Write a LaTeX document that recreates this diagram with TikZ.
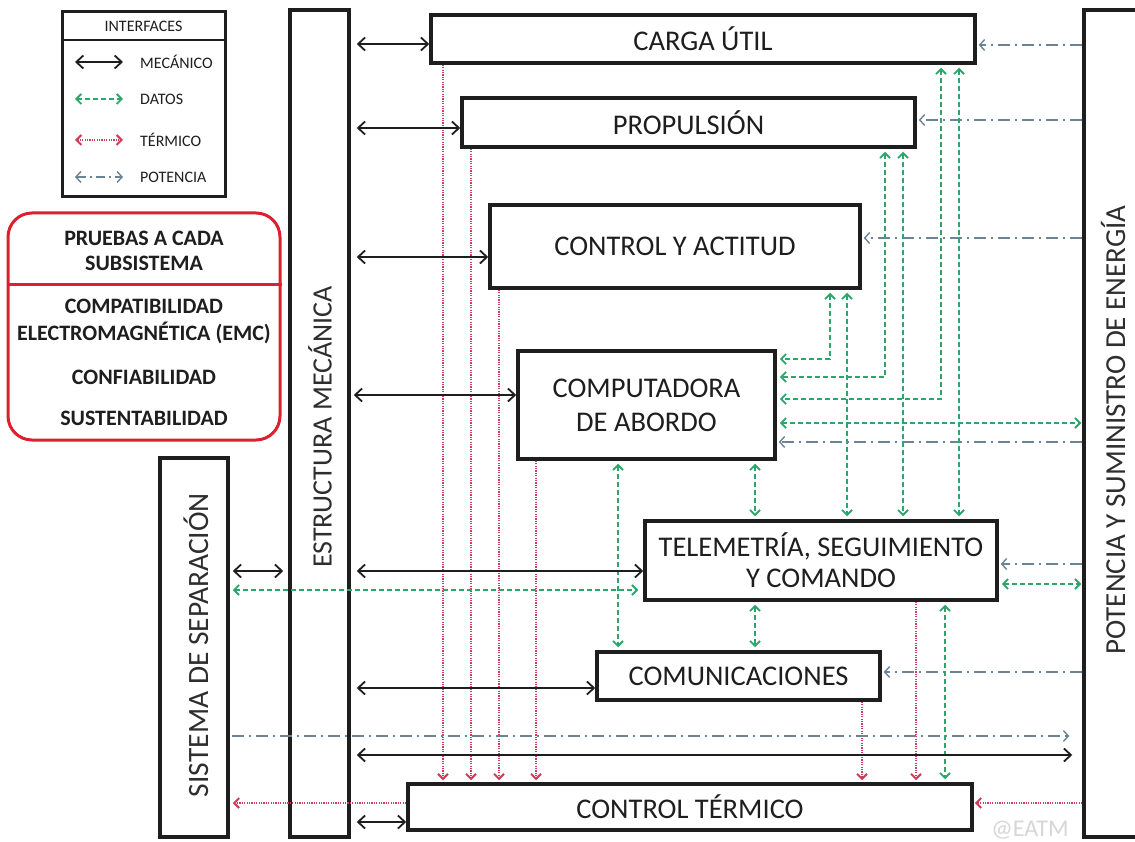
\documentclass[tikz,border=0pt]{standalone}
\usepackage{fontspec}
\setmainfont{Carlito}
\usetikzlibrary{arrows.meta}
\definecolor{ink}{HTML}{1E1E1E}
\definecolor{dgreen}{HTML}{2EA66B}
\definecolor{dred}{HTML}{CC3F5C}
\definecolor{dblue}{HTML}{6C8395}
\definecolor{bred}{HTML}{DC2030}
\definecolor{labgray}{HTML}{2E2E2E}
\begin{document}
\begin{tikzpicture}[x=1pt,y=-1pt,
  box/.style={draw=ink,line width=3.5pt,fill=white,inner sep=0pt,text=ink,
     font=\fontsize{28.5}{32}\selectfont,align=center},
  colbox/.style={draw=ink,line width=3.5pt,fill=white,inner sep=0pt},
  vlab/.style={rotate=90,text=labgray,font=\fontsize{28}{31}\selectfont,inner sep=0pt},
  mec/.style={draw=ink,line width=1.8pt,
     {Straight Barb[length=7pt,width=13pt]}-{Straight Barb[length=7pt,width=13pt]}},
  dat/.style={draw=dgreen,line width=1.8pt,dash pattern=on 5pt off 3pt,
     {Straight Barb[length=5pt,width=10pt]}-{Straight Barb[length=5pt,width=10pt]}},
  ter/.style={draw=dred,line width=1.6pt,dash pattern=on 1.2pt off 1.2pt,
     -{Straight Barb[length=5pt,width=10pt,line width=2pt]}},
  terd/.style={draw=dred,line width=1.6pt,dash pattern=on 1.2pt off 1.2pt,
     {Straight Barb[length=5pt,width=10pt,line width=2pt]}-{Straight Barb[length=5pt,width=10pt,line width=2pt]}},
  pow/.style={draw=dblue,line width=1.8pt,dash pattern=on 12pt off 5pt on 2pt off 5pt,
     -{Straight Barb[length=5pt,width=11pt,line width=1.4pt]}},
  powd/.style={draw=dblue,line width=1.8pt,dash pattern=on 9pt off 4pt on 2pt off 4pt,
     {Straight Barb[length=5pt,width=11pt,line width=1.4pt]}-{Straight Barb[length=5pt,width=11pt,line width=1.4pt]}},
  lgtext/.style={anchor=west,inner sep=0pt,text=ink,font=\fontsize{16}{18}\selectfont},
  prtext/.style={inner sep=0pt,text=ink,align=center,font=\bfseries\fontsize{22}{27}\selectfont}
]
\clip (0,0) rectangle (1135,842);
\fill[white] (0,0) rectangle (1135,842);

% ---------- legend ----------
\node[draw=ink,line width=3pt,minimum width=163pt,minimum height=185pt,inner sep=0pt] (leg) at (143.5,104.5) {};
\draw[ink,line width=2.5pt] (leg.west |- 0,40) -- (leg.east |- 0,40);
\node[inner sep=0pt,text=ink,font=\fontsize{16}{18}\selectfont] (legt) at (143.5,26) {INTERFACES};
\coordinate (m1) at (75,62);  \coordinate (m2) at (123,62);
\coordinate (d1) at (75,99);  \coordinate (d2) at (123,99);
\coordinate (t1) at (75,140); \coordinate (t2) at (123,140);
\coordinate (p1) at (75,177); \coordinate (p2) at (123,177);
\draw[mec] (m1) -- (m2);
\draw[dat] (d1) -- (d2);
\draw[terd] (t1) -- (t2);
\draw[powd] (p1) -- (p2);
\node[lgtext] (lm) at (140,62) {MECÁNICO};
\node[lgtext] (ld) at (140,99) {DATOS};
\node[lgtext] (lt) at (140,140) {TÉRMICO};
\node[lgtext] (lp) at (140,177) {POTENCIA};

% ---------- tests box ----------
\node[draw=bred,line width=3pt,rounded corners=24pt,minimum width=272pt,minimum height=227pt,inner sep=0pt] (pru) at (144,326.5) {};
\draw[bred,line width=3pt] (pru.west |- 0,285) -- (pru.east |- 0,285);
\node[prtext,font=\bfseries\fontsize{22}{25}\selectfont] (pr1) at (144,250.5) {PRUEBAS A CADA\\SUBSISTEMA};
\node[prtext] (pr2) at (144,321.5) {COMPATIBILIDAD\\ELECTROMAGNÉTICA (EMC)};
\node[prtext] (pr3) at (144,377) {CONFIABILIDAD};
\node[prtext] (pr4) at (144,418) {SUSTENTABILIDAD};

% ---------- columns ----------
\node[colbox,minimum width=59pt,minimum height=827pt] (est) at (319.5,423.5) {};
\node[vlab] (estl) at (320,427) {ESTRUCTURA MECÁNICA};
\node[colbox,minimum width=68pt,minimum height=379pt] (sis) at (194,647.5) {};
\node[vlab,font=\fontsize{29.5}{32}\selectfont] (sisl) at (196,645) {SISTEMA DE SEPARACIÓN};
\node[colbox,minimum width=58pt,minimum height=827pt] (pot) at (1113,423.5) {};
\node[vlab,font=\fontsize{29}{32}\selectfont] (potl) at (1113,430) {POTENCIA Y SUMINISTRO DE ENERGÍA};

% ---------- subsystem boxes ----------
\node[box,minimum width=544pt,minimum height=48pt] (carga) at (703,39) {CARGA ÚTIL};
\node[box,minimum width=453pt,minimum height=49pt] (prop) at (688.5,122.5) {PROPULSIÓN};
\node[box,minimum width=370pt,minimum height=83pt] (cya) at (675,246.5) {CONTROL Y ACTITUD};
\node[box,minimum width=257pt,minimum height=108pt,font=\fontsize{28.5}{34}\selectfont] (comp) at (646.5,405) {COMPUTADORA\\DE ABORDO};
\node[box,minimum width=352pt,minimum height=79pt,font=\fontsize{28.5}{31}\selectfont] (tel) at (821,560.5) {TELEMETRÍA, SEGUIMIENTO\\Y COMANDO};
\node[box,minimum width=283pt,minimum height=48pt] (com) at (738.5,676) {COMUNICACIONES};
\node[box,minimum width=564pt,minimum height=46pt] (ct) at (690,807) {CONTROL TÉRMICO};

\node[inner sep=0pt,text=black!16,font=\fontsize{24}{26}\selectfont] (wm) at (1030,830) {@EATM};

% ---------- thermal (red dotted) ----------
\draw[ter,shorten >=2pt] (carga.south -| 443,0) -- (ct.north -| 443,0);
\draw[ter,shorten >=2pt] (prop.south -| 471,0) -- (ct.north -| 471,0);
\draw[ter,shorten >=2pt] (cya.south -| 499,0) -- (ct.north -| 499,0);
\draw[ter,shorten >=2pt] (comp.south -| 536,0) -- (ct.north -| 536,0);
\draw[ter,shorten >=2pt] (com.south -| 862,0) -- (ct.north -| 862,0);
\draw[ter,shorten >=2pt] (tel.south -| 916,0) -- (ct.north -| 916,0);
\draw[ter,shorten >=1pt] (pot.west |- 0,803) -- (ct.east |- 0,803);
\draw[ter,shorten >=3pt] (ct.west |- 0,803) -- (sis.east |- 0,803);

% ---------- power (blue dash-dot) ----------
\draw[pow,shorten >=2pt] (pot.west |- 0,45) -- (carga.east |- 0,45);
\draw[pow,shorten >=2pt] (pot.west |- 0,120) -- (prop.east |- 0,120);
\draw[pow,shorten >=2pt] (pot.west |- 0,238) -- (cya.east |- 0,238);
\draw[pow,shorten >=2pt] (pot.west |- 0,442) -- (comp.east |- 0,442);
\draw[pow,shorten >=2pt] (pot.west |- 0,564) -- (tel.east |- 0,564);
\draw[pow,shorten >=2pt] (pot.west |- 0,672) -- (com.east |- 0,672);
\draw[pow,shorten <=2pt,shorten >=13pt] (sis.east |- 0,736) -- (pot.west |- 0,736);

% ---------- data (green dashed) ----------
\draw[dat,shorten <=3pt,shorten >=3pt] (cya.south -| 830,0) |- (comp.east |- 0,359);
\draw[dat,shorten <=3pt,shorten >=3pt] (prop.south -| 885,0) |- (comp.east |- 0,377);
\draw[dat,shorten <=3pt,shorten >=3pt] (carga.south -| 941,0) |- (comp.east |- 0,399);
\draw[dat,shorten <=3pt,shorten >=3pt] (cya.south -| 847,0) -- (tel.north -| 847,0);
\draw[dat,shorten <=3pt,shorten >=3pt] (prop.south -| 903,0) -- (tel.north -| 903,0);
\draw[dat,shorten <=3pt,shorten >=3pt] (carga.south -| 959,0) -- (tel.north -| 959,0);
\draw[dat,shorten <=3pt,shorten >=1pt] (comp.east |- 0,423) -- (pot.west |- 0,423);
\draw[dat,shorten <=3pt,shorten >=1pt] (tel.east |- 0,584) -- (pot.west |- 0,584);
\draw[dat,shorten <=3pt,shorten >=3pt] (comp.south -| 618,0) -- (com.north -| 618,0);
\draw[dat,shorten <=3pt,shorten >=3pt] (comp.south -| 755,0) -- (tel.north -| 755,0);
\draw[dat,shorten <=3pt,shorten >=3pt] (tel.south -| 755,0) -- (com.north -| 755,0);
\draw[dat,shorten <=3pt,shorten >=3pt] (tel.south -| 945,0) -- (ct.north -| 945,0);
\draw[dat,shorten <=3pt,shorten >=5pt] (sis.east |- 0,590) -- (tel.west |- 0,590);

% ---------- mechanical (black) ----------
\draw[mec,shorten <=6pt] (est.east |- 0,44) -- (carga.west |- 0,44);
\draw[mec,shorten <=6pt] (est.east |- 0,128) -- (prop.west |- 0,128);
\draw[mec,shorten <=6pt] (est.east |- 0,257) -- (cya.west |- 0,257);
\draw[mec,shorten <=3pt] (est.east |- 0,395) -- (comp.west |- 0,395);
\draw[mec,shorten <=6pt] (est.east |- 0,571) -- (tel.west |- 0,571);
\draw[mec,shorten <=6pt] (est.east |- 0,688) -- (com.west |- 0,688);
\draw[mec,shorten <=6pt,shorten >=10pt] (est.east |- 0,755) -- (pot.west |- 0,755);
\draw[mec,shorten <=6pt] (est.east |- 0,822) -- (ct.west |- 0,822);
\draw[mec,shorten <=3pt,shorten >=5pt] (sis.east |- 0,571) -- (est.west |- 0,571);
\end{tikzpicture}
\end{document}
